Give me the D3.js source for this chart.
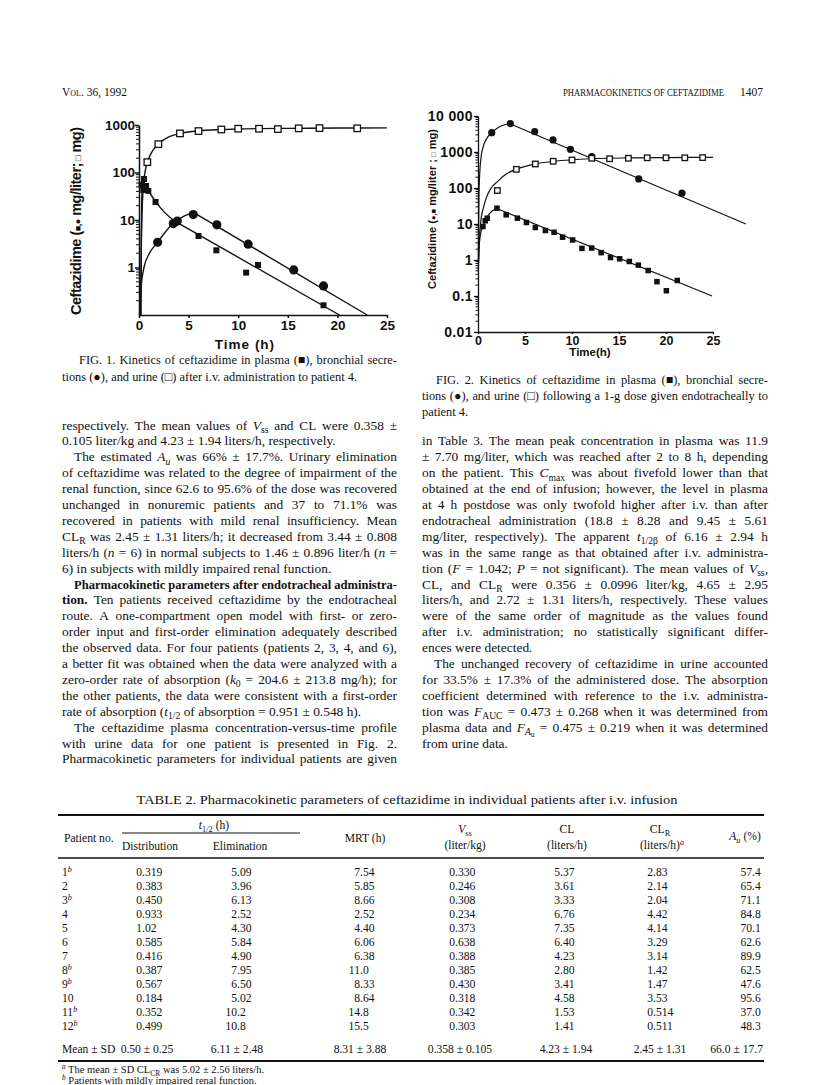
<!DOCTYPE html>
<html><head><meta charset="utf-8">
<script src="https://cdn.jsdelivr.net/npm/d3@7/dist/d3.min.js"></script>
<style>html,body{margin:0;padding:0;background:#fff}svg{display:block}</style>
</head><body>
<svg id="page" width="816" height="1085" xmlns="http://www.w3.org/2000/svg"></svg>
<script>
// ================= DATA =================
// Figure 1 (i.v. administration, patient 4) — [time h, value]
const fig1XTicks = [0, 5, 10, 15, 20, 25];
const fig1YTicks = [1, 10, 100, 1000];
const fig1YTickLabels = ["1", "10", "100", "1000"];
const fig1PlasmaPts = [[0.27,55],[0.44,43],[0.5,73],[0.71,52],[0.94,41],[1.67,24],[6.0,4.6],[7.8,2.3],[10.8,0.78],[12.0,1.13],[18.6,0.16]];
const fig1BronchialPts = [[1.88,3.4],[3.46,8.4],[3.86,9.5],[5.47,13],[7.85,7.9],[11.0,3.1],[15.6,0.89],[18.6,0.41]];
const fig1UrinePts = [[0.84,165],[1.95,395],[4.13,665],[6.0,745],[8.3,805],[10.0,835],[12.1,835],[14.0,820],[16.1,850],[18.2,860],[22.0,850]];
const fig1PlasmaCurve = [[0.2,0.1],[0.23,3],[0.27,20],[0.33,50],[0.42,68],[0.55,58],[0.8,46],[1.2,34],[1.7,24],[2.5,15],[3.6,9.5]];
const fig1PlasmaLine = [[3.6,9.5],[20.2,0.1]];
const fig1BronchialCurve = [[0.05,0.1],[0.2,0.35],[0.5,1],[1,1.9],[1.88,3.4],[2.6,5.4],[3.4,8.3],[4.2,11],[5.0,13.3],[5.6,14]];
const fig1BronchialLine = [[5.6,14],[23,0.1]];
const fig1UrineCurve = [[0.15,0.1],[0.25,5],[0.35,25],[0.5,70],[0.65,115],[0.84,165],[1.2,250],[1.95,395],[3,560],[4.13,665],[6,750],[8.3,800],[10,825],[12,840],[15,850],[20,862],[25,870]];

// Figure 2 (endotracheal administration, patient 4)
const fig2XTicks = [0, 5, 10, 15, 20, 25];
const fig2YTicks = [0.01, 0.1, 1, 10, 100, 1000, 10000];
const fig2YTickLabels = ["0.01", "0.1", "1", "10", "100", "1000", "10 000"];
const fig2PlasmaPts = [[0.53,8.5],[0.77,12.3],[0.98,14.5],[2.02,27.5],[3.0,18],[4.19,14.5],[5.15,11],[6.1,8],[7.17,6.6],[8.09,5.9],[9.0,4.3],[10.07,3.6],[11.06,2.1],[12.1,2.15],[13.1,1.6],[14.1,1.17],[15.07,1.08],[16.1,0.91],[17.06,0.72],[18.1,0.51],[19.04,0.25],[20.04,0.14],[21.2,0.27]];
const fig2BronchialPts = [[1.46,3450],[3.44,6150],[6.03,3670],[7.98,2160],[9.83,1190],[12.1,745],[17.1,179],[21.7,72]];
const fig2UrinePts = [[2.06,85],[4.08,330],[6.1,465],[8.0,553],[10.0,600],[12.1,670],[14.0,650],[16.0,670],[18.0,690],[20.0,690],[22.0,690],[23.9,700]];
const fig2PlasmaCurve = [[0.03,0.5],[0.15,3],[0.35,6.5],[0.53,9],[0.8,13],[1.2,19],[1.6,24],[2.0,27]];
const fig2PlasmaLine = [[2.0,27],[24.9,0.1]];
const fig2BronchialCurve = [[0.03,1],[0.1,60],[0.2,300],[0.35,800],[0.55,1400],[0.9,2300],[1.46,3450],[2.2,4900],[2.9,5800],[3.4,6100]];
const fig2BronchialLine = [[3.4,6100],[28.5,10]];
const fig2UrineCurve = [[0.05,0.8],[0.15,4],[0.3,12],[0.6,30],[0.9,55],[1.4,100],[2.06,150],[3,245],[4.08,330],[6,460],[8,550],[10,610],[12,650],[16,685],[20,700],[25,710]];

// Table 2
const tablePatients = ["1","2","3","4","5","6","7","8","9","10","11","12"];
const tableImpaired = [true,false,true,false,false,false,false,true,true,false,true,true];
const tableDistribution = ["0.319","0.383","0.450","0.933","1.02","0.585","0.416","0.387","0.567","0.184","0.352","0.499"];
const tableElimination = ["5.09","3.96","6.13","2.52","4.30","5.84","4.90","7.95","6.50","5.02","10.2","10.8"];
const tableMRT = ["7.54","5.85","8.66","2.52","4.40","6.06","6.38","11.0","8.33","8.64","14.8","15.5"];
const tableVss = ["0.330","0.246","0.308","0.234","0.373","0.638","0.388","0.385","0.430","0.318","0.342","0.303"];
const tableCL = ["5.37","3.61","3.33","6.76","7.35","6.40","4.23","2.80","3.41","4.58","1.53","1.41"];
const tableCLR = ["2.83","2.14","2.04","4.42","4.14","3.29","3.14","1.42","1.47","3.53","0.514","0.511"];
const tableAu = ["57.4","65.4","71.1","84.8","70.1","62.6","89.9","62.5","47.6","95.6","37.0","48.3"];
const tableMeans = ["0.50 ± 0.25","6.11 ± 2.48","8.31 ± 3.88","0.358 ± 0.105","4.23 ± 1.94","2.45 ± 1.31","66.0 ± 17.7"];

// ================= TEXT =================
const leftLines = [
 ["respectively. The mean values of <i>V</i><sub>ss</sub> and CL were 0.358 ±",1,0],
 ["0.105 liter/kg and 4.23 ± 1.94 liters/h, respectively.",0,0],
 ["The estimated <i>A</i><sub><i>u</i></sub> was 66% ± 17.7%. Urinary elimination",1,1],
 ["of ceftazidime was related to the degree of impairment of the",1,0],
 ["renal function, since 62.6 to 95.6% of the dose was recovered",1,0],
 ["unchanged in nonuremic patients and 37 to 71.1% was",1,0],
 ["recovered in patients with mild renal insufficiency. Mean",1,0],
 ["CL<sub>R</sub> was 2.45 ± 1.31 liters/h; it decreased from 3.44 ± 0.808",1,0],
 ["liters/h (<i>n</i> = 6) in normal subjects to 1.46 ± 0.896 liter/h (<i>n</i> =",1,0],
 ["6) in subjects with mildly impaired renal function.",0,0],
 ["<b>Pharmacokinetic parameters after endotracheal administra-</b>",1,1],
 ["<b>tion.</b> Ten patients received ceftazidime by the endotracheal",1,0],
 ["route. A one-compartment open model with first- or zero-",1,0],
 ["order input and first-order elimination adequately described",1,0],
 ["the observed data. For four patients (patients 2, 3, 4, and 6),",1,0],
 ["a better fit was obtained when the data were analyzed with a",1,0],
 ["zero-order rate of absorption (<i>k</i><sub>0</sub> = 204.6 ± 213.8 mg/h); for",1,0],
 ["the other patients, the data were consistent with a first-order",1,0],
 ["rate of absorption (<i>t</i><sub>1/2</sub> of absorption = 0.951 ± 0.548 h).",0,0],
 ["The ceftazidime plasma concentration-versus-time profile",1,1],
 ["with urine data for one patient is presented in Fig. 2.",1,0],
 ["Pharmacokinetic parameters for individual patients are given",1,0]
];
const rightLines = [
 ["in Table 3. The mean peak concentration in plasma was 11.9",1,0],
 ["± 7.70 mg/liter, which was reached after 2 to 8 h, depending",1,0],
 ["on the patient. This <i>C</i><sub>max</sub> was about fivefold lower than that",1,0],
 ["obtained at the end of infusion; however, the level in plasma",1,0],
 ["at 4 h postdose was only twofold higher after i.v. than after",1,0],
 ["endotracheal administration (18.8 ± 8.28 and 9.45 ± 5.61",1,0],
 ["mg/liter, respectively). The apparent <i>t</i><sub>1/2β</sub> of 6.16 ± 2.94 h",1,0],
 ["was in the same range as that obtained after i.v. administra-",1,0],
 ["tion (<i>F</i> = 1.042; <i>P</i> = not significant). The mean values of <i>V</i><sub>ss</sub>,",1,0],
 ["CL, and CL<sub>R</sub> were 0.356 ± 0.0996 liter/kg, 4.65 ± 2.95",1,0],
 ["liters/h, and 2.72 ± 1.31 liters/h, respectively. These values",1,0],
 ["were of the same order of magnitude as the values found",1,0],
 ["after i.v. administration; no statistically significant differ-",1,0],
 ["ences were detected.",0,0],
 ["The unchanged recovery of ceftazidime in urine accounted",1,1],
 ["for 33.5% ± 17.3% of the administered dose. The absorption",1,0],
 ["coefficient determined with reference to the i.v. administra-",1,0],
 ["tion was <i>F</i><sub>AUC</sub> = 0.473 ± 0.268 when it was determined from",1,0],
 ["plasma data and <i>F</i><sub><i>A</i><sub>u</sub></sub> = 0.475 ± 0.219 when it was determined",1,0],
 ["from urine data.",0,0]
];
const cap1Lines = [
 ["FIG. 1. Kinetics of ceftazidime in plasma (■), bronchial secre-",1,1],
 ["tions (●), and urine (□) after i.v. administration to patient 4.",0,0]
];
const cap2Lines = [
 ["FIG. 2. Kinetics of ceftazidime in plasma (■), bronchial secre-",1,1],
 ["tions (●), and urine (□) following a 1-g dose given endotracheally to",1,0],
 ["patient 4.",0,0]
];

// ================= RENDER =================
const SERIF = '"Liberation Serif","Times New Roman",serif';
const SANS = '"Liberation Sans",Arial,sans-serif';
const INK = '#111';
const svg = d3.select('#page');
svg.append('rect').attr('width',816).attr('height',1085).attr('fill','#fff');

function parseMarkup(str){
  const segs=[]; const st={i:0,b:0,sub:0,sup:0};
  const re=/<(\/?)(i|b|sub|sup)>/g; let last=0,m;
  while((m=re.exec(str))){
    if(m.index>last) segs.push(Object.assign({t:str.slice(last,m.index)},st));
    st[m[2]] += m[1] ? -1 : 1;
    last=re.lastIndex;
  }
  if(last<str.length) segs.push(Object.assign({t:str.slice(last)},st));
  return segs;
}
function toWords(segs){
  const words=[[]];
  segs.forEach(s=>{
    s.t.split(' ').forEach((p,k)=>{
      if(k>0) words.push([]);
      if(p.length) words[words.length-1].push(Object.assign({},s,{t:p}));
    });
  });
  return words.filter(w=>w.length);
}
function renderSegs(textSel, segs, size){
  let cur=0;
  segs.forEach(s=>{
    let fs=size, off=0;
    if(s.sub>=2){fs=size*0.58; off=size*0.42;}
    else if(s.sub===1){fs=size*0.72; off=size*0.26;}
    else if(s.sup){fs=size*0.7; off=-size*0.38;}
    textSel.append('tspan').text(s.t)
      .attr('font-size',fs)
      .attr('font-style',s.i?'italic':null)
      .attr('font-weight',s.b?'bold':null)
      .attr('dy',(off-cur).toFixed(2));
    cur=off;
  });
}
function richText(g, str, x, y, size, anchor, family){
  const t=g.append('text').attr('x',x).attr('y',y).attr('font-size',size)
    .attr('font-family',family||SERIF).attr('fill',INK).attr('text-anchor',anchor||'start');
  renderSegs(t, parseMarkup(str), size);
  return t;
}
function drawParagraphLines(lines, x0, width, y0, lead, size, indent){
  const g=svg.append('g').attr('font-family',SERIF).attr('fill',INK);
  lines.forEach((ln,li)=>{
    const [str, justify, ind] = ln;
    const y=y0+li*lead;
    const words=toWords(parseMarkup(str));
    const els=words.map(w=>{
      const t=g.append('text').attr('y',y).attr('font-size',size);
      renderSegs(t,w,size); return t;
    });
    let widths=els.map(t=>t.node().getComputedTextLength());
    let sum=d3.sum(widths);
    const start=x0+(ind?indent:0);
    const avail=width-(ind?indent:0);
    const minGap=size*0.22;
    const n=words.length;
    if(justify && n>1 && sum+minGap*(n-1)>avail){
      const f=(avail-minGap*(n-1))/sum;
      els.forEach((t,k)=>{t.attr('textLength',(widths[k]*f).toFixed(2)).attr('lengthAdjust','spacingAndGlyphs');});
      widths=widths.map(w=>w*f); sum=d3.sum(widths);
    }
    let gap=size*0.25;
    if(justify && n>1) gap=(avail-sum)/(n-1);
    let cx=start;
    els.forEach((t,k)=>{t.attr('x',cx.toFixed(2)); cx+=widths[k]+gap;});
  });
}

// ---- Running head ----
svg.append('text').attr('x',62).attr('y',96).attr('font-family',SERIF).attr('font-size',11.5)
  .attr('font-variant','small-caps').attr('fill',INK).text('Vol. 36, 1992');
svg.append('text').attr('x',563).attr('y',96).attr('font-family',SERIF).attr('font-size',9.6)
  .attr('fill',INK).attr('textLength',161).attr('lengthAdjust','spacingAndGlyphs').text('PHARMACOKINETICS OF CEFTAZIDIME');
svg.append('text').attr('x',763).attr('y',96).attr('font-family',SERIF).attr('font-size',11.5)
  .attr('text-anchor','end').attr('fill',INK).text('1407');

// ---- Chart helper ----
function drawChart(o){
  const g=svg.append('g');
  const x0=o.x.range()[0], yb=o.y.range()[0];
  const line=d3.line().x(d=>o.x(d[0])).y(d=>o.y(d[1]));
  const curve=d3.line().x(d=>o.x(d[0])).y(d=>o.y(d[1])).curve(d3.curveMonotoneX);
  const ya=g.append('g').attr('transform',`translate(${x0},0)`)
    .call(d3.axisLeft(o.y).tickValues(o.yTicks).tickSize(o.majorLen).tickSizeOuter(0)
      .tickPadding(o.yPad).tickFormat((d,i)=>o.yLabels[i]));
  ya.attr('font-family',SANS).attr('font-size',o.yFont).attr('font-weight','bold');
  ya.selectAll('text').attr('fill',INK).attr('letter-spacing',o.yLetter||0);
  ya.selectAll('line,path').attr('stroke',INK).attr('stroke-width',o.axisW);
  const minors=o.y.ticks().filter(v=>!o.yTicks.some(t=>Math.abs(Math.log10(t)-Math.log10(v))<1e-6) && v>o.y.domain()[0]*1.0001);
  g.append('g').selectAll('line').data(minors).join('line')
    .attr('x1',x0-o.minorLen).attr('x2',x0).attr('y1',d=>o.y(d)).attr('y2',d=>o.y(d))
    .attr('stroke',INK).attr('stroke-width',1);
  const xa=g.append('g').attr('transform',`translate(0,${yb})`)
    .call(d3.axisBottom(o.x).tickValues(o.xTicks).tickSize(o.xTickLen).tickSizeOuter(0).tickPadding(o.xPad));
  xa.attr('font-family',SANS).attr('font-size',o.xFont).attr('font-weight','bold');
  xa.selectAll('text').attr('fill',INK);
  xa.selectAll('line,path').attr('stroke',INK).attr('stroke-width',o.axisW);
  const lg=g.append('g').attr('fill','none').attr('stroke',INK).attr('stroke-width',o.lineW);
  o.curves.forEach(c=>lg.append('path').attr('d',curve(c)));
  o.lines.forEach(c=>lg.append('path').attr('d',line(c)));
  const mg=g.append('g');
  mg.selectAll('rect.ps').data(o.plasma).join('rect')
    .attr('x',d=>o.x(d[0])-o.sq/2).attr('y',d=>o.y(d[1])-o.sq/2)
    .attr('width',o.sq).attr('height',o.sq).attr('fill',INK);
  mg.selectAll('circle').data(o.bronchial).join('circle')
    .attr('cx',d=>o.x(d[0])).attr('cy',d=>o.y(d[1])).attr('r',o.r).attr('fill',INK);
  mg.selectAll('rect.us').data(o.urine).join('rect')
    .attr('x',d=>o.x(d[0])-o.osq/2).attr('y',d=>o.y(d[1])-o.osq/2)
    .attr('width',o.osq).attr('height',o.osq).attr('fill','#fff').attr('stroke',INK).attr('stroke-width',1.3);
  return g;
}

// ---- Figure 1 ----
const x1=d3.scaleLinear().domain([0,25]).range([139,387]);
const y1=d3.scaleLog().domain([0.1,1000]).range([315,125]);
drawChart({x:x1,y:y1,xTicks:fig1XTicks,yTicks:fig1YTicks,yLabels:fig1YTickLabels,
  majorLen:4,minorLen:3,yPad:0,xTickLen:3,xPad:2,yFont:13.5,xFont:13.5,axisW:1.5,lineW:1.4,
  curves:[fig1PlasmaCurve,fig1BronchialCurve,fig1UrineCurve],lines:[fig1PlasmaLine,fig1BronchialLine],
  plasma:fig1PlasmaPts,bronchial:fig1BronchialPts,urine:fig1UrinePts,sq:6,r:4.6,osq:6.5});
(function(){
  const t=svg.append('text').attr('transform','translate(81,221) rotate(-90)')
    .attr('text-anchor','middle').attr('font-family',SANS).attr('font-weight','bold')
    .attr('font-size',14.5).attr('fill',INK).attr('textLength',188).attr('lengthAdjust','spacing');
  t.append('tspan').text('Ceftazidime (');
  t.append('tspan').attr('font-size',9).text('■,●');
  t.append('tspan').text(' mg/liter;');
  t.append('tspan').attr('font-size',9).text(' □');
  t.append('tspan').text(' mg)');
  svg.append('text').attr('x',245).attr('y',349).attr('text-anchor','middle')
    .attr('font-family',SANS).attr('font-weight','bold').attr('font-size',13.5).attr('letter-spacing',1)
    .attr('fill',INK).text('Time (h)');
})();

// ---- Figure 2 ----
const x2=d3.scaleLinear().domain([0,25]).range([478,713]);
const y2=d3.scaleLog().domain([0.01,10000]).range([332,116]);
drawChart({x:x2,y:y2,xTicks:fig2XTicks,yTicks:fig2YTicks,yLabels:fig2YTickLabels,
  majorLen:4,minorLen:2.5,yPad:1,xTickLen:2,xPad:2,yFont:14,xFont:12.5,axisW:1.3,lineW:1.2,yLetter:0.4,
  curves:[fig2PlasmaCurve,fig2BronchialCurve,fig2UrineCurve],lines:[fig2PlasmaLine,fig2BronchialLine],
  plasma:fig2PlasmaPts,bronchial:fig2BronchialPts,urine:fig2UrinePts,sq:5.5,r:3.6,osq:5.5});
(function(){
  const t=svg.append('text').attr('transform','translate(436,209) rotate(-90)')
    .attr('text-anchor','middle').attr('font-family',SANS).attr('font-weight','bold')
    .attr('font-size',11).attr('fill',INK).attr('textLength',160).attr('lengthAdjust','spacing');
  t.append('tspan').text('Ceftazidime (');
  t.append('tspan').attr('font-size',7.5).text('●,■');
  t.append('tspan').text(' mg/liter ;');
  t.append('tspan').attr('font-size',7.5).text(' □');
  t.append('tspan').text(' mg)');
  svg.append('text').attr('x',590).attr('y',356).attr('text-anchor','middle')
    .attr('font-family',SANS).attr('font-weight','bold').attr('font-size',11.5)
    .attr('fill',INK).text('Time(h)');
})();

// ---- Captions & body ----
drawParagraphLines(cap1Lines, 62, 335, 364, 17, 12.4, 17);
drawParagraphLines(cap2Lines, 422, 346, 384, 16, 12.4, 14);
drawParagraphLines(leftLines, 62, 335, 429.5, 15.9, 13.4, 12);
drawParagraphLines(rightLines, 422, 346, 445.4, 15.9, 13.4, 12);

// ---- Table 2 ----
(function(){
  const g=svg.append('g').attr('font-family',SERIF).attr('fill',INK);
  const fs=11.6;
  g.append('text').attr('x',407).attr('y',804).attr('text-anchor','middle').attr('font-size',12.4)
    .attr('textLength',541).attr('lengthAdjust','spacingAndGlyphs')
    .text('TABLE 2. Pharmacokinetic parameters of ceftazidime in individual patients after i.v. infusion');
  const rule=(x1,x2,y,w)=>g.append('line').attr('x1',x1).attr('x2',x2).attr('y1',y).attr('y2',y).attr('stroke',INK).attr('stroke-width',w);
  rule(58,764,815,2);
  rule(122,300,833,1);
  rule(58,764,858,1.6);
  rule(58,764,1061,2);
  richText(g,'Patient no.',64,842,fs);
  richText(g,'<i>t</i><sub>1/2</sub> (h)',214,829,fs,'middle');
  richText(g,'Distribution',150,850,fs,'middle');
  richText(g,'Elimination',240,850,fs,'middle');
  richText(g,'MRT (h)',365,842,fs,'middle');
  richText(g,'<i>V</i><sub>ss</sub>',465,833,fs,'middle');
  richText(g,'(liter/kg)',465,849,fs,'middle');
  richText(g,'CL',567,833,fs,'middle');
  richText(g,'(liters/h)',567,849,fs,'middle');
  richText(g,'CL<sub>R</sub>',660,833,fs,'middle');
  richText(g,'(liters/h)<sup><i>a</i></sup>',662,849,fs,'middle');
  richText(g,'<i>A</i><sub><i>u</i></sub> (%)',745,840,fs,'middle');
  const cols=[tableDistribution,tableElimination,tableMRT,tableVss,tableCL,tableCLR,tableAu];
  const decX=[142,237,360,455,560,653,752];
  const rowY=d3.scaleLinear().domain([0,11]).range([876,1030]);
  tablePatients.forEach((p,i)=>{
    const y=rowY(i);
    richText(g, p+(tableImpaired[i]?'<sup><i>b</i></sup>':''), 62, y, fs);
    cols.forEach((col,c)=>{
      const [a,b]=col[i].split('.');
      g.append('text').attr('x',decX[c]).attr('y',y).attr('font-size',fs).attr('text-anchor','end').text(a);
      g.append('text').attr('x',decX[c]).attr('y',y).attr('font-size',fs).text('.'+b);
    });
  });
  const meanX=[147,237,360,460,566,660,763];
  richText(g,'Mean ± SD',62,1053,fs);
  tableMeans.forEach((m,c)=>{
    g.append('text').attr('x',meanX[c]).attr('y',1053).attr('font-size',fs)
      .attr('text-anchor',c===6?'end':'middle').text(m);
  });
  richText(g,'<sup><i>a</i></sup> The mean ± SD CL<sub>CR</sub> was 5.02 ± 2.56 liters/h.',62,1073,10.5);
  richText(g,'<sup><i>b</i></sup> Patients with mildly impaired renal function.',62,1084,10.5);
})();
</script>
</body></html>
